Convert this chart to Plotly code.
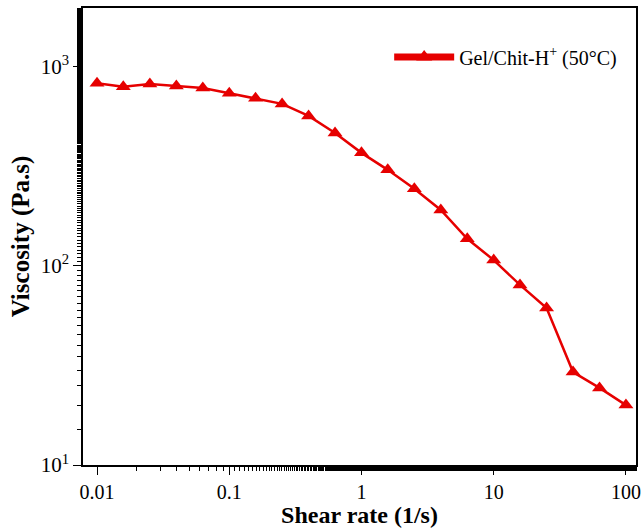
import plotly.graph_objects as go

shear_rate = [0.01, 0.0158, 0.0251, 0.0398, 0.0631, 0.1, 0.158, 0.251, 0.398, 0.631,
              1, 1.58, 2.51, 3.98, 6.31, 10, 15.8, 25.1, 39.8, 63.1, 100]
viscosity = [828, 796, 821, 803, 784, 738, 696, 652, 567, 466,
             370, 304, 244, 191, 137, 107, 80.3, 61.5, 29.3, 24.4, 20.0]
series_name = "Gel/Chit-H<sup>+</sup> (50°C)"
x_tickvals = [0.01, 0.1, 1, 10, 100]
x_ticktext = ["0.01", "0.1", "1", "10", "100"]
y_tickvals = [10, 100, 1000]
y_ticktext = ["10<sup>1</sup>", "10<sup>2</sup>", "10<sup>3</sup>"]

red = "#e60000"
font_family = "Liberation Serif, Times New Roman, serif"

fig = go.Figure()
fig.add_trace(go.Scatter(
    x=shear_rate, y=viscosity, mode="lines+markers",
    line=dict(color=red, width=2.5),
    marker=dict(symbol="triangle-up", size=13, color=red),
    showlegend=False,
))
fig.add_trace(go.Scatter(
    x=[None], y=[None], mode="lines+markers", name=series_name,
    line=dict(color=red, width=7),
    marker=dict(symbol="triangle-up", size=14, color=red),
))

fig.update_layout(
    width=644, height=528,
    margin=dict(l=83, r=8, t=8, b=63, autoexpand=False),
    paper_bgcolor="white", plot_bgcolor="white",
    font=dict(family=font_family, size=20, color="black"),
    legend=dict(x=0.975, y=0.893, xanchor="right", yanchor="middle",
                bgcolor="rgba(0,0,0,0)", font=dict(size=20), itemwidth=60),
)
fig.update_xaxes(
    type="log", range=[-2.106, 2.076], automargin=False,
    tickmode="array", tickvals=x_tickvals, ticktext=x_ticktext,
    tickfont=dict(size=20),
    ticks="outside", ticklen=8, tickwidth=1.3, tickcolor="black",
    minor=dict(ticks="outside", ticklen=4, tickwidth=1, tickcolor="black", showgrid=False),
    showline=True, linecolor="black", linewidth=1.5, mirror=True,
    showgrid=False, zeroline=False,
    title=dict(text="<b>Shear rate (1/s)</b>", font=dict(size=24), standoff=8),
)
fig.update_yaxes(
    type="log", range=[1, 3.296], automargin=False,
    tickmode="array", tickvals=y_tickvals, ticktext=y_ticktext,
    tickfont=dict(size=21),
    ticks="outside", ticklen=8, tickwidth=1.3, tickcolor="black",
    minor=dict(ticks="outside", ticklen=4, tickwidth=1, tickcolor="black", showgrid=False),
    showline=True, linecolor="black", linewidth=1.5, mirror=True,
    showgrid=False, zeroline=False,
    title=dict(text="<b>Viscosity (Pa.s)</b>", font=dict(size=25), standoff=4),
)

fig.write_html("out.html")
